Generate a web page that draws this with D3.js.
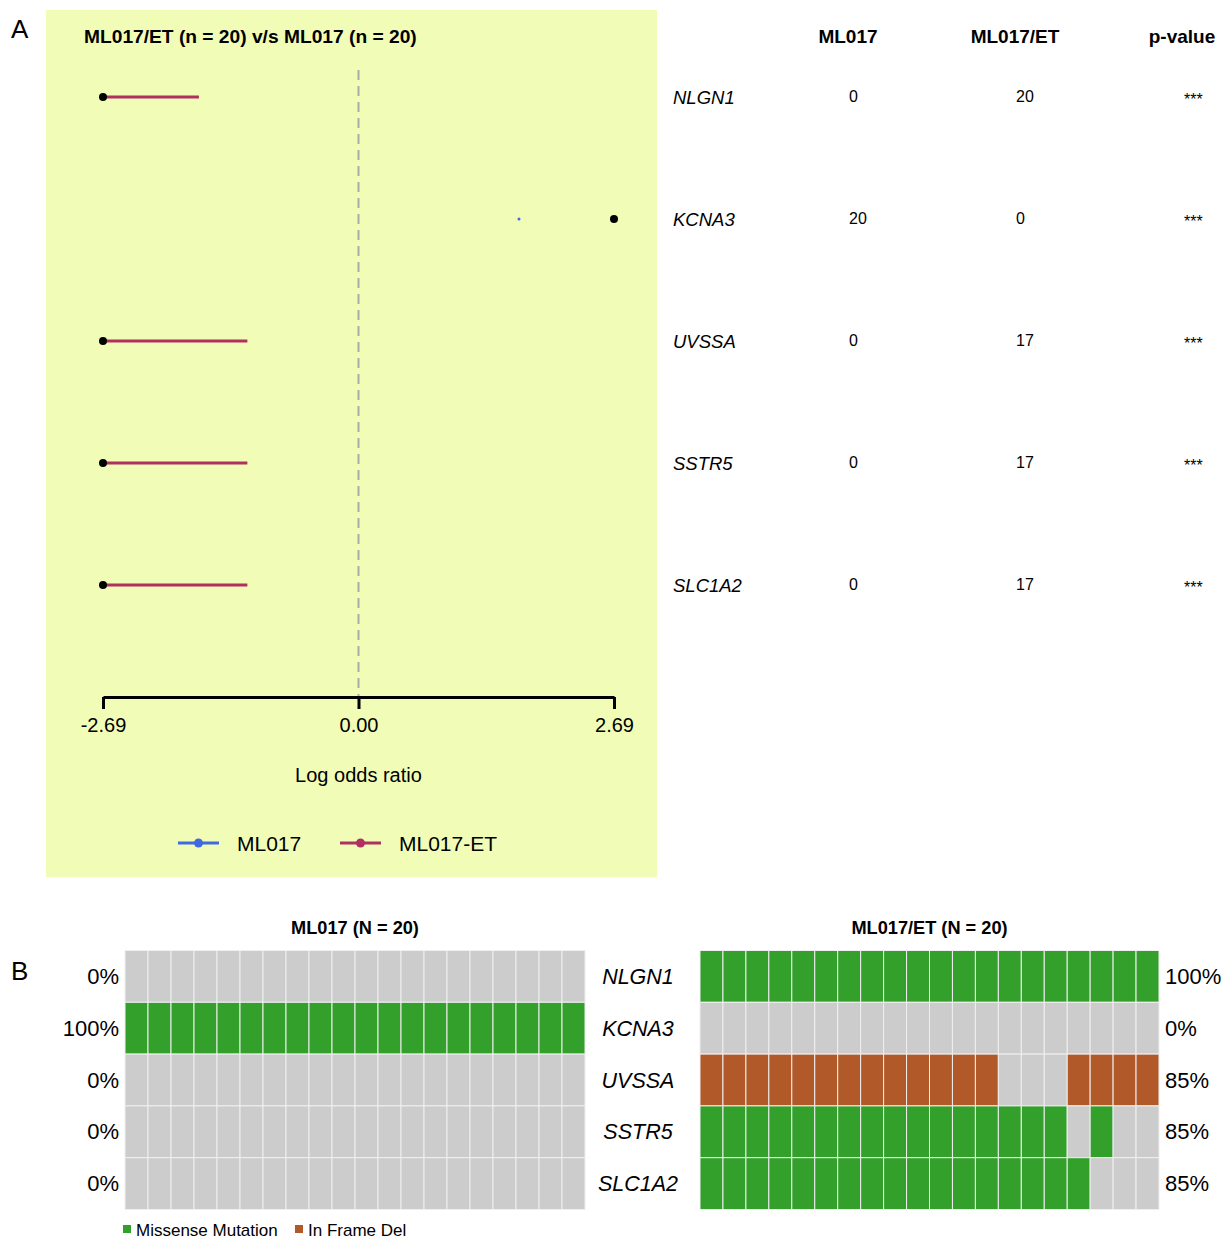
<!DOCTYPE html>
<html>
<head>
<meta charset="utf-8">
<script src="https://cdn.jsdelivr.net/npm/d3@7"></script>
<style>
  html, body { margin: 0; padding: 0; background: #ffffff; }
  svg { display: block; font-family: "Liberation Sans", Arial, Helvetica, sans-serif; }
</style>
</head>
<body>
<svg id="fig" width="1226" height="1239"></svg>
<script>
// ---- data -------------------------------------------------------------
const genes = ["NLGN1", "KCNA3", "UVSSA", "SSTR5", "SLC1A2"];

// log odds ratio (clipped at +/- 2.69) and confidence bounds
const logOR   = [-2.69, 2.69, -2.69, -2.69, -2.69];
const ciLower = [-2.69, 1.69, -2.69, -2.69, -2.69];
const ciUpper = [-1.68, 1.69, -1.17, -1.17, -1.17];
const enrichedIn = ["ML017-ET", "ML017", "ML017-ET", "ML017-ET", "ML017-ET"];

const axisTicks = [-2.69, 0, 2.69];

// mutated sample counts per cohort
const countML017   = [0, 20, 0, 0, 0];
const countML017ET = [20, 0, 17, 17, 17];
const pValueStars  = ["***", "***", "***", "***", "***"];

// per-sample calls (M = missense mutation, D = in-frame deletion, - = none)
const callsML017 = [
  "--------------------",
  "MMMMMMMMMMMMMMMMMMMM",
  "--------------------",
  "--------------------",
  "--------------------"
];
const callsML017ET = [
  "MMMMMMMMMMMMMMMMMMMM",
  "--------------------",
  "DDDDDDDDDDDDD---DDDD",
  "MMMMMMMMMMMMMMMM-M--",
  "MMMMMMMMMMMMMMMMM---"
];

const legendGroups = ["ML017", "ML017-ET"];
const variantTypes = ["Missense Mutation", "In Frame Del"];

// ---- styling ----------------------------------------------------------
const groupColor = { "ML017": "#4169E1", "ML017-ET": "#B03060" };
const callColor  = { "M": "#33A02C", "D": "#B15928", "-": "#CCCCCC" };
const variantColor = ["#33A02C", "#B15928"];

const svg = d3.select("#fig");

// ---- panel A: forest plot --------------------------------------------
svg.append("rect")
  .attr("x", 46).attr("y", 10).attr("width", 611).attr("height", 867)
  .attr("fill", "#F1FDB6");

svg.append("text").attr("x", 11).attr("y", 38)
  .attr("font-size", 26).text("A");

svg.append("text").attr("x", 84).attr("y", 43)
  .attr("font-size", 19.2).attr("font-weight", "bold")
  .text("ML017/ET (n = 20) v/s ML017 (n = 20)");

const x = d3.scaleLinear().domain([-2.69, 2.69]).range([103, 614]);
const y = d3.scalePoint().domain(genes).range([97, 585]);

// reference line at zero
svg.append("line")
  .attr("x1", x(0)).attr("x2", x(0)).attr("y1", 70).attr("y2", 697)
  .attr("stroke", "#AAAAAA").attr("stroke-width", 2)
  .attr("stroke-dasharray", "10,6");

// axis (plain hyphen for negative values)
const fmt = d3.format(".2f");
const axisG = svg.append("g").attr("transform", "translate(0,697)")
  .call(d3.axisBottom(x).tickValues(axisTicks)
    .tickFormat(d => fmt(d).replace("\u2212", "-"))
    .tickSize(12).tickSizeOuter(0));
axisG.select(".domain").attr("stroke", "#000").attr("stroke-width", 3);
axisG.selectAll(".tick line").attr("stroke", "#000").attr("stroke-width", 3);
axisG.selectAll(".tick text").attr("font-size", 20).attr("dy", "0.5em")
  .attr("font-family", "Liberation Sans, Arial, sans-serif").attr("fill", "#000")
  .attr("y", 25);

svg.append("text").attr("x", x(0)).attr("y", 782)
  .attr("text-anchor", "middle").attr("font-size", 20)
  .text("Log odds ratio");

// confidence intervals
const rows = genes.map((g, i) => ({
  gene: g, or: logOR[i], lo: ciLower[i], hi: ciUpper[i], grp: enrichedIn[i]
}));

svg.append("g").selectAll("line").data(rows).join("line")
  .attr("x1", d => x(d.lo)).attr("x2", d => x(d.hi))
  .attr("y1", d => y(d.gene)).attr("y2", d => y(d.gene))
  .attr("stroke", d => groupColor[d.grp])
  .attr("stroke-width", d => d.lo === d.hi ? 3 : 3.2)
  .attr("stroke-linecap", d => d.lo === d.hi ? "round" : "butt");

svg.append("g").selectAll("circle").data(rows).join("circle")
  .attr("cx", d => x(d.or)).attr("cy", d => y(d.gene)).attr("r", 4)
  .attr("fill", "#000");

// legend
const legX = [178, 340];
const legTextX = [237, 399];
legendGroups.forEach((g, i) => {
  const lg = svg.append("g");
  lg.append("line").attr("x1", legX[i]).attr("x2", legX[i] + 41)
    .attr("y1", 843).attr("y2", 843)
    .attr("stroke", groupColor[g]).attr("stroke-width", 3);
  lg.append("circle").attr("cx", legX[i] + 20.5).attr("cy", 843).attr("r", 4.5)
    .attr("fill", groupColor[g]);
  lg.append("text").attr("x", legTextX[i]).attr("y", 850.5)
    .attr("font-size", 21).text(g);
});

// ---- panel A: table --------------------------------------------------
const headerCols = [
  { label: "ML017", x: 848 },
  { label: "ML017/ET", x: 1015 },
  { label: "p-value", x: 1182 }
];
svg.append("g").selectAll("text").data(headerCols).join("text")
  .attr("x", d => d.x).attr("y", 43).attr("text-anchor", "middle")
  .attr("font-size", 19).attr("font-weight", "bold").text(d => d.label);

const table = svg.append("g");
genes.forEach((g, i) => {
  const yy = y(g);
  table.append("text").attr("x", 673).attr("y", yy + 7)
    .attr("font-size", 18.5).attr("font-style", "italic").text(g);
  table.append("text").attr("x", 849).attr("y", yy + 5)
    .attr("font-size", 16).text(countML017[i]);
  table.append("text").attr("x", 1016).attr("y", yy + 5)
    .attr("font-size", 16).text(countML017ET[i]);
  table.append("text").attr("x", 1184).attr("y", yy + 8)
    .attr("font-size", 16).text(pValueStars[i]);
});

// ---- panel B: oncoplots ----------------------------------------------
svg.append("text").attr("x", 11).attr("y", 980)
  .attr("font-size", 26).text("B");

const rowY = d3.scaleBand().domain(genes).range([950.5, 1209.5]);
const nSamples = 20;

function oncoGrid(calls, x0, x1, title) {
  const colX = d3.scaleBand().domain(d3.range(nSamples)).range([x0, x1]);
  const g = svg.append("g");
  g.append("text").attr("x", (x0 + x1) / 2).attr("y", 934)
    .attr("text-anchor", "middle").attr("font-size", 18.2)
    .attr("font-weight", "bold").text(title);
  const cells = [];
  genes.forEach((gene, r) => {
    calls[r].split("").forEach((c, s) => cells.push({ gene, s, c }));
  });
  g.selectAll("rect").data(cells).join("rect")
    .attr("x", d => colX(d.s)).attr("y", d => rowY(d.gene))
    .attr("width", colX.bandwidth()).attr("height", rowY.bandwidth())
    .attr("fill", d => callColor[d.c])
    .attr("stroke", "#EFEFEF").attr("stroke-width", 1);
  return g;
}

function pct(callStr) {
  const n = callStr.split("").filter(c => c !== "-").length;
  return Math.round(100 * n / callStr.length) + "%";
}

oncoGrid(callsML017, 125, 585, "ML017 (N = 20)");
oncoGrid(callsML017ET, 700, 1159, "ML017/ET (N = 20)");

genes.forEach((g, i) => {
  const cy = rowY(g) + rowY.bandwidth() / 2;
  svg.append("text").attr("x", 119).attr("y", cy + 7.5)
    .attr("text-anchor", "end").attr("font-size", 22).text(pct(callsML017[i]));
  svg.append("text").attr("x", 1165).attr("y", cy + 7.5)
    .attr("font-size", 22).text(pct(callsML017ET[i]));
  svg.append("text").attr("x", 638).attr("y", cy + 7.5)
    .attr("text-anchor", "middle").attr("font-size", 21.5)
    .attr("font-style", "italic").text(g);
});

// variant legend
const vLegX = [123, 295];
variantTypes.forEach((v, i) => {
  svg.append("rect").attr("x", vLegX[i]).attr("y", 1225).attr("width", 8).attr("height", 8)
    .attr("fill", variantColor[i]);
  svg.append("text").attr("x", vLegX[i] + 13).attr("y", 1235.5)
    .attr("font-size", 17).text(v);
});
</script>
</body>
</html>
